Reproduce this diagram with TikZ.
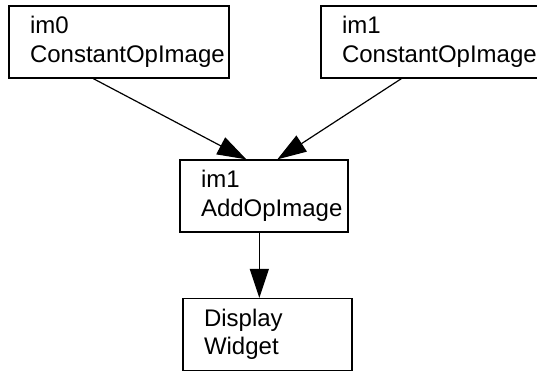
\documentclass[tikz,border=0pt]{standalone}
\usepackage{fontspec}
\setmainfont{Liberation Sans}
\usetikzlibrary{arrows.meta,calc}
\begin{document}
\begin{tikzpicture}[x=1pt,y=-1pt,
  box/.style={draw,line width=1.3pt,rectangle,minimum height=72pt,inner xsep=21pt,inner ysep=0pt,align=left,
    font=\fontsize{24}{28.5}\selectfont},
  arr/.style={line width=1.2pt,-{Triangle[length=29pt,width=19pt]}}]
\useasboundingbox (0,0) rectangle (537,370);
\fill[white] (0,0) rectangle (537,370);
\node[box,text width=178pt] (im0) at (119,42) {im0\\ConstantOpImage};
\node[box,text width=180pt] (im1) at (432,42) {im1\\ConstantOpImage};
\node[box,text width=126pt] (add) at (264,196) {im1\\AddOpImage};
\node[box,text width=127pt] (disp) at (267.5,334.5) {Display\\Widget};
\draw[arr] ([xshift=85pt]im0.south west) -- ([xshift=67pt]add.north west);
\draw[arr] ([xshift=81pt]im1.south west) -- ([xshift=98pt]add.north west);
\draw[arr] ([xshift=80pt]add.south west) -- ([xshift=77pt]disp.north west);
\end{tikzpicture}
\end{document}
